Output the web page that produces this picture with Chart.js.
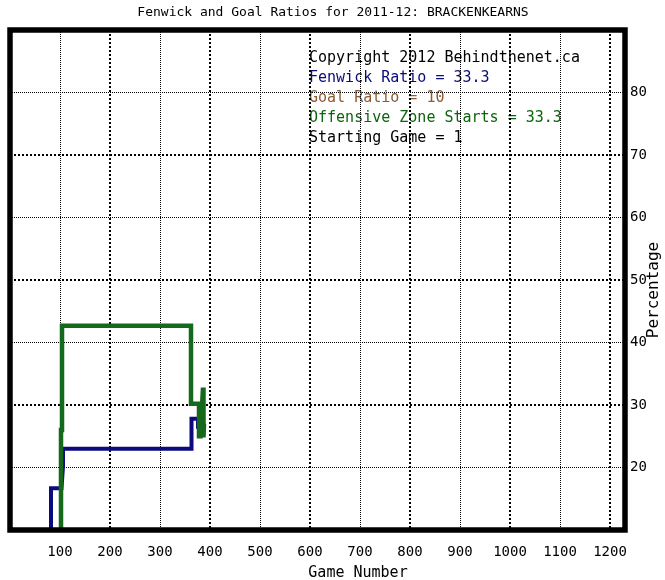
<!DOCTYPE html>
<html>
<head>
<meta charset="utf-8">
<script src="https://cdn.jsdelivr.net/npm/chart.js@4.4.1/dist/chart.umd.min.js"></script>
<style>
    html, body { margin: 0; padding: 0; background: #fff; }
</style>
</head>
<body>
<canvas id="chart" width="665" height="580"></canvas>
<script>
// ===============================
// DATA
// ===============================
const xTickValues = [100, 200, 300, 400, 500, 600, 700, 800, 900, 1000, 1100, 1200];
const yTickValues = [20, 30, 40, 50, 60, 70, 80];

// Fenwick ratio path (game number, percentage)
const fenwickGames = [82, 82, 98, 103, 106, 106, 363, 363, 376, 376];
const fenwickPct = [0, 16.7, 16.7, 16.7, 20.2, 23, 23, 27.8, 27.8, 26.2];

// Offensive zone starts path
const ozGames = [102, 102, 104, 104, 362, 362, 378, 378, 381, 386, 387, 388];
const ozPct = [0, 26, 26, 42.7, 42.7, 30.2, 30.2, 25, 25, 32.8, 24.8, 27];

const infoLines = [
    "Copyright 2012 Behindthenet.ca",
    "Fenwick Ratio = 33.3",
    "Goal Ratio = 10",
    "Offensive Zone Starts = 33.3",
    "Starting Game = 1"
];
const infoColors = ["#000000", "#0a0a78", "#8c5a32", "#0a640a", "#000000"];

const MONO = "'DejaVu Sans Mono', 'Liberation Mono', monospace";
const NAVY = "#0b0b7d";
const GREEN = "#14691a";

const zip = (xs, ys) => xs.map((x, i) => ({ x, y: ys[i] }));

// ===============================
// DECOR (titles, info text, frame)
// ===============================
const decor = {
    id: "decor",
    beforeDraw(chart) {
        const { ctx } = chart;
        ctx.save();
        ctx.fillStyle = "#fff";
        ctx.fillRect(0, 0, chart.width, chart.height);

        ctx.font = `15px ${MONO}`;
        ctx.textBaseline = "middle";
        ctx.textAlign = "left";
        infoLines.forEach((t, i) => {
            ctx.fillStyle = infoColors[i];
            ctx.fillText(t, 309, 58 + i * 20);
        });
        ctx.restore();
    },
    afterDraw(chart) {
        const { ctx, chartArea: a } = chart;
        ctx.save();
        ctx.strokeStyle = "#000";
        ctx.lineWidth = 5.5;
        ctx.strokeRect(a.left, a.top, a.right - a.left, a.bottom - a.top);

        ctx.fillStyle = "#000";
        ctx.textBaseline = "middle";
        ctx.textAlign = "center";
        ctx.font = `13px ${MONO}`;
        ctx.fillText("Fenwick and Goal Ratios for 2011-12: BRACKENKEARNS", 333, 13);

        ctx.font = `15px ${MONO}`;
        ctx.fillText("Game Number", 358, 573);

        ctx.font = `16px ${MONO}`;
        ctx.translate(654, 290);
        ctx.rotate(-Math.PI / 2);
        ctx.fillText("Percentage", 0, 0);
        ctx.restore();
    }
};

// hatched vs dotted grid lines
const xHatched = (v) => (v / 100) % 2 === 0;
const yHatched = (v) => (v / 10) % 2 === 1;

const gridWidth = (fn) => (c) => (c.tick && fn(c.tick.value)) ? 2 : 1;
const gridDash = (fn) => (c) => (c.tick && fn(c.tick.value)) ? [2, 2] : [1, 1];

new Chart(document.getElementById("chart"), {
    type: "line",
    data: {
        datasets: [
            {
                label: "Offensive Zone Starts",
                data: zip(ozGames, ozPct),
                borderColor: GREEN,
                borderWidth: 4.5,
                pointRadius: 0,
                tension: 0,
                order: 0
            },
            {
                label: "Fenwick Ratio",
                data: zip(fenwickGames, fenwickPct),
                borderColor: NAVY,
                borderWidth: 4,
                pointRadius: 0,
                tension: 0,
                order: 1
            }
        ]
    },
    options: {
        responsive: false,
        devicePixelRatio: 1,
        animation: false,
        layout: { padding: { left: 10, top: 30, right: 0, bottom: 0 } },
        plugins: {
            legend: { display: false },
            tooltip: { enabled: false },
            title: { display: false }
        },
        scales: {
            x: {
                type: "linear",
                position: "bottom",
                min: 0,
                max: 1230,
                afterBuildTicks: (s) => { s.ticks = xTickValues.map((v) => ({ value: v })); },
                afterFit: (s) => { s.height = 50; },
                ticks: {
                    color: "#000",
                    font: { family: MONO, size: 14 },
                    padding: 14,
                    maxRotation: 0,
                    autoSkip: false,
                    callback: (v) => String(v)
                },
                grid: {
                    color: "#000",
                    lineWidth: gridWidth(xHatched),
                    borderDash: gridDash(xHatched),
                    drawTicks: false
                },
                border: { display: false, dash: gridDash(xHatched) }
            },
            y: {
                type: "linear",
                position: "right",
                min: 10,
                max: 90,
                afterBuildTicks: (s) => { s.ticks = yTickValues.map((v) => ({ value: v })); },
                afterFit: (s) => { s.width = 40; },
                ticks: {
                    color: "#000",
                    font: { family: MONO, size: 14 },
                    padding: 5,
                    callback: (v) => String(v)
                },
                grid: {
                    color: "#000",
                    lineWidth: gridWidth(yHatched),
                    borderDash: gridDash(yHatched),
                    drawTicks: false
                },
                border: { display: false, dash: gridDash(yHatched) }
            }
        }
    },
    plugins: [decor]
});
</script>
</body>
</html>
